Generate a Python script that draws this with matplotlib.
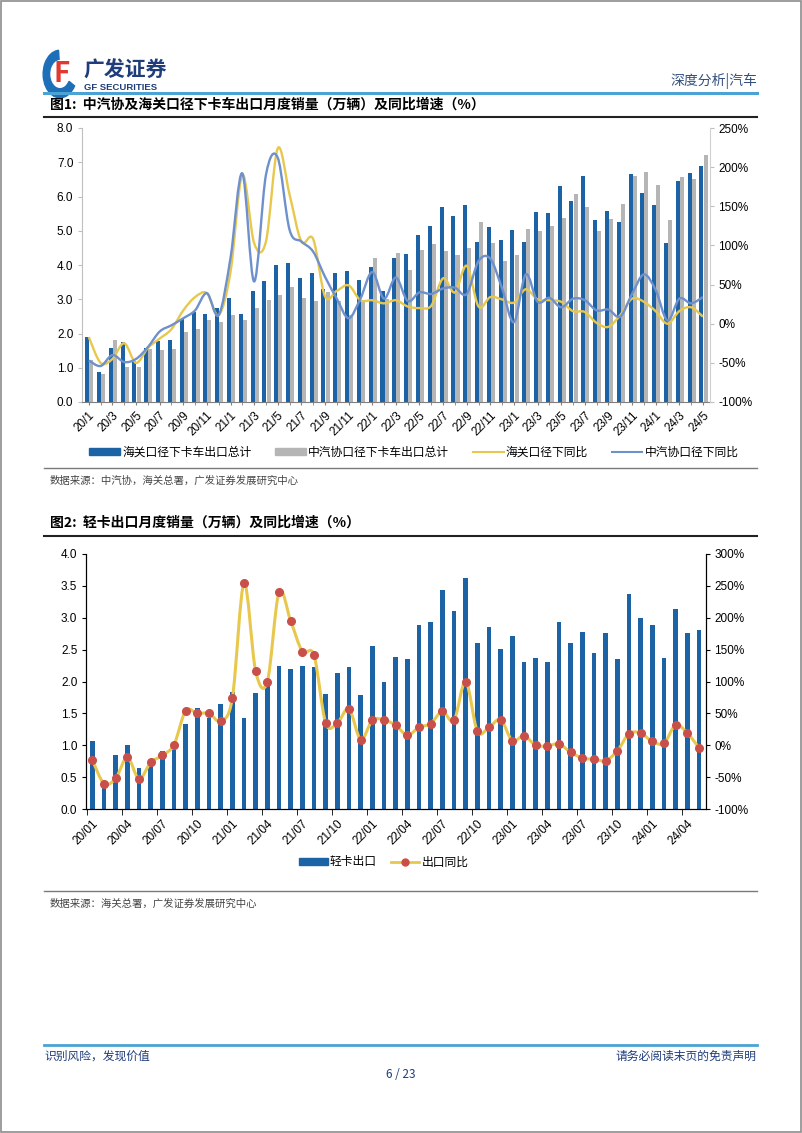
import numpy as np
import matplotlib
matplotlib.use("Agg")
import matplotlib.pyplot as plt
from matplotlib.path import Path
from matplotlib.patches import PathPatch, Rectangle, Wedge, Patch
from matplotlib.lines import Line2D

plt.rcParams['font.family'] = ['Liberation Sans', 'Noto Sans CJK SC']
plt.rcParams['axes.unicode_minus'] = False
CJK = ['Noto Sans CJK SC', 'Liberation Sans']

# ---- 图1 数据 (20/1 - 24/5) ----
customs_total = [1.89, 0.88, 1.58, 1.74, 1.20, 1.58, 1.78, 1.82, 2.42, 2.63, 2.57, 2.75, 3.05, 2.58, 3.25, 3.54, 4.01, 4.05,
                 3.63, 3.76, 3.30, 3.76, 3.82, 3.57, 3.95, 3.24, 4.21, 4.32, 4.88, 5.13, 5.68, 5.43, 5.74, 4.66, 5.11, 4.73,
                 5.01, 4.67, 5.54, 5.51, 6.31, 5.86, 6.60, 5.32, 5.58, 5.26, 6.67, 6.09, 5.74, 4.65, 6.45, 6.69, 6.89]
caam_total = [1.23, 0.83, 1.80, 1.03, 1.02, 1.54, 1.51, 1.56, 2.03, 2.13, 2.38, 2.34, 2.54, 2.39, 2.73, 2.98, 3.12, 3.35,
              3.04, 2.95, 3.22, 2.95, 2.55, 2.95, 4.21, 3.00, 4.35, 3.85, 4.44, 4.61, 4.41, 4.29, 4.51, 5.25, 4.63, 4.13,
              4.29, 5.04, 5.00, 5.13, 5.36, 6.07, 5.68, 5.00, 5.34, 5.79, 6.59, 6.71, 6.34, 5.31, 6.57, 6.51, 7.21]
customs_yoy = [-17, -50, -45, -25, -50, -31, -19, -7, 17, 34, 39, 11, 66, 190, 103, 105, 224, 165,
               105, 108, 35, 42, 49, 30, 30, 26, 30, 22, 20, 23, 58, 40, 74, 22, 34, 31,
               27, 44, 31, 30, 28, 16, 15, 1, -4, 11, 32, 28, 16, 0, 16, 21, 9]
caam_yoy = [-47, -54, -40, -49, -45, -30, -10, -2, 7, 17, 39, 11, 84, 192, 54, 190, 212, 120,
            105, 92, 60, 32, 7, 32, 66, 32, 59, 29, 40, 38, 45, 46, 38, 80, 83, 45,
            2, 63, 28, 33, 21, 32, 30, 17, 18, 9, 38, 63, 43, 4, 32, 26, 34]
labels1 = ['20/1', '20/3', '20/5', '20/7', '20/9', '20/11', '21/1', '21/3', '21/5', '21/7', '21/9', '21/11',
           '22/1', '22/3', '22/5', '22/7', '22/9', '22/11', '23/1', '23/3', '23/5', '23/7', '23/9', '23/11',
           '24/1', '24/3', '24/5']

# ---- 图2 数据 (20/01 - 24/05) ----
light_export = [1.06, 0.38, 0.85, 1.01, 0.65, 0.72, 0.91, 0.93, 1.34, 1.58, 1.42, 1.65, 1.84, 1.42,
                1.82, 2.00, 2.24, 2.20, 2.24, 2.23, 1.81, 2.13, 2.23, 1.79, 2.55, 1.99, 2.39, 2.35,
                2.88, 2.94, 3.44, 3.10, 3.63, 2.60, 2.85, 2.51, 2.72, 2.30, 2.37, 2.31, 2.93, 2.60,
                2.77, 2.44, 2.76, 2.36, 3.37, 2.99, 2.88, 2.37, 3.13, 2.76, 2.81]
light_yoy = [-23, -60, -52, -19, -53, -27, -16, 1, 54, 50, 50, 38, 74, 254,
             116, 100, 240, 195, 147, 141, 35, 35, 57, 9, 39, 40, 31, 16,
             28, 34, 53, 39, 100, 22, 28, 40, 7, 15, 0, -1, 2, -11, -20, -22, -24, -9,
             18, 19, 6, 3, 32, 19, -4]
labels2 = ['20/01', '20/04', '20/07', '20/10', '21/01', '21/04', '21/07', '21/10', '22/01', '22/04',
           '22/07', '22/10', '23/01', '23/04', '23/07', '23/10', '24/01', '24/04']

BLUE = '#1c63a6'
GRAY = '#b5b5b5'
YELLOW = '#e8c84c'
LBLUE = '#6e90cc'
NAVY = '#1f3d7a'


def smooth_path(x, y):
    # excel style smoothed line: catmull-rom drawn as bezier segments
    verts = [(x[0], y[0])]
    codes = [Path.MOVETO]
    n = len(x)
    for i in range(n - 1):
        x0, y0 = (x[i - 1], y[i - 1]) if i > 0 else (x[i], y[i])
        x3, y3 = (x[i + 2], y[i + 2]) if i + 2 < n else (x[i + 1], y[i + 1])
        c1 = (x[i] + (x[i + 1] - x0) / 6, y[i] + (y[i + 1] - y0) / 6)
        c2 = (x[i + 1] - (x3 - x[i]) / 6, y[i + 1] - (y3 - y[i]) / 6)
        verts += [c1, c2, (x[i + 1], y[i + 1])]
        codes += [Path.CURVE4] * 3
    return Path(verts, codes)


fig = plt.figure(figsize=(8.02, 11.33), dpi=100)
H = 1133.0


def fy(py):
    return 1 - py / H


def fx(px):
    return px / 802.0


# page frame
fig.add_artist(Rectangle((0.001, 0.001), 0.998, 0.998, transform=fig.transFigure,
                         fill=False, edgecolor='#8c8c8c', lw=1.2))

# header
fig.add_artist(Wedge((fx(60), fy(74)), 0.021, 95, 330, width=0.008, transform=fig.transFigure,
                     color='#1d6fb8'))
fig.text(fx(62), fy(74), 'F', fontsize=20, fontweight='bold', style='italic', color='#e03a2f',
         ha='center', va='center', family=CJK)
fig.text(fx(83), fy(70), '广发证券', fontsize=15, fontweight='bold', color=NAVY, ha='left', va='center',
         family=CJK)
fig.text(fx(84), fy(87), 'GF SECURITIES', fontsize=6.8, fontweight='bold', color=NAVY, ha='left',
         va='center')
fig.text(fx(757), fy(81), '深度分析|汽车', fontsize=10, color='#34507e', ha='right', va='center', family=CJK)
fig.add_artist(Line2D([fx(44), fx(757)], [fy(92.5), fy(92.5)], transform=fig.transFigure,
                      color='#4aa3d4', lw=2.2))

# ================= 图1 =================
fig.text(fx(50), fy(105), '图1:  中汽协及海关口径下卡车出口月度销量（万辆）及同比增速（%）', fontsize=10,
         fontweight='bold', ha='left', va='center', family=CJK)
fig.add_artist(Line2D([fx(44), fx(757)], [fy(117), fy(117)], transform=fig.transFigure,
                      color='#222222', lw=1.5))

ax = fig.add_axes([fx(81.7), fy(402), fx(710) - fx(81.7), fy(128) - fy(402)])
x1 = np.arange(len(customs_total))
ax.bar(x1 - 0.13, customs_total, width=0.34, color=BLUE, zorder=2)
ax.bar(x1 + 0.22, caam_total, width=0.34, color=GRAY, zorder=1)
ax.set_xlim(-0.6, 52.6)
ax.set_ylim(0, 8)
ax.set_yticks(np.arange(0, 8.01, 1.0))
ax.set_yticklabels(['%.1f' % v for v in np.arange(0, 8.01, 1.0)], fontsize=8.5)
ax.set_xticks(x1[::2])
ax.set_xticklabels(labels1, rotation=45, ha='right', rotation_mode='anchor', fontsize=8.5)
ax.set_xticks(x1, minor=True)
ax.tick_params(axis='x', which='both', length=2.5, color='#7f7f7f', pad=3)
ax.tick_params(axis='y', length=3, color='#bfbfbf', pad=3)
for s in ['top', 'right']:
    ax.spines[s].set_visible(False)
ax.spines['left'].set_color('#bfbfbf')
ax.spines['bottom'].set_color('#7f7f7f')

ax2 = ax.twinx()
ax2.set_ylim(-100, 250)
ax2.add_patch(PathPatch(smooth_path(x1, customs_yoy), fill=False, edgecolor=YELLOW, lw=1.7))
ax2.add_patch(PathPatch(smooth_path(x1, caam_yoy), fill=False, edgecolor=LBLUE, lw=1.7))
ax2.set_yticks(np.arange(-100, 251, 50))
ax2.set_yticklabels(['%d%%' % v for v in np.arange(-100, 251, 50)], fontsize=8.5)
ax2.tick_params(axis='y', length=3, color='#bfbfbf', pad=3)
for s in ['top', 'left', 'bottom']:
    ax2.spines[s].set_visible(False)
ax2.spines['right'].set_color('#d0d0d0')

h1 = [Patch(color=BLUE), Patch(color=GRAY), Line2D([], [], color=YELLOW, lw=1.5),
      Line2D([], [], color=LBLUE, lw=1.5)]
fig.legend(h1, ['海关口径下卡车出口总计', '中汽协口径下卡车出口总计', '海关口径下同比', '中汽协口径下同比'],
           loc='center', bbox_to_anchor=(fx(414), fy(452)), ncol=4, frameon=False,
           handlelength=2.6, handleheight=0.6, columnspacing=2.0, handletextpad=0.2,
           prop={'family': CJK, 'size': 8.5})

fig.add_artist(Line2D([fx(44), fx(757)], [fy(468), fy(468)], transform=fig.transFigure,
                      color='#7a7a7a', lw=1.0))
fig.text(fx(50), fy(481), '数据来源：中汽协，海关总署，广发证券发展研究中心', fontsize=7.5, color='#444444',
         ha='left', va='center', family=CJK)

# ================= 图2 =================
fig.text(fx(50), fy(523), '图2:  轻卡出口月度销量（万辆）及同比增速（%）', fontsize=10, fontweight='bold',
         ha='left', va='center', family=CJK)
fig.add_artist(Line2D([fx(44), fx(757)], [fy(536), fy(536)], transform=fig.transFigure,
                      color='#222222', lw=1.5))

bx = fig.add_axes([fx(85.7), fy(809), fx(706) - fx(85.7), fy(554) - fy(809)])
x2 = np.arange(len(light_export))
bx.bar(x2, light_export, width=0.42, color=BLUE)
bx.set_xlim(-0.57, 52.6)
bx.set_ylim(0, 4)
bx.set_yticks(np.arange(0, 4.01, 0.5))
bx.set_yticklabels(['%.1f' % v for v in np.arange(0, 4.01, 0.5)], fontsize=8.5)
bx.set_xticks(x2[::3])
bx.set_xticklabels(labels2, rotation=45, ha='right', rotation_mode='anchor', fontsize=8.5)
bx.set_xticks(x2[::3] - 0.5, minor=True)
bx.tick_params(axis='x', which='major', length=0, pad=6)
bx.tick_params(axis='x', which='minor', length=4, color='black')
bx.tick_params(axis='y', length=3, color='black', pad=3)
bx.spines['top'].set_visible(False)

bx2 = bx.twinx()
bx2.set_ylim(-100, 300)
bx2.add_patch(PathPatch(smooth_path(x2, light_yoy), fill=False, edgecolor=YELLOW, lw=2.2, zorder=2))
bx2.plot(x2, light_yoy, linestyle='none', marker='o', markersize=5.5, color='#c9504a', zorder=3)
bx2.set_yticks(np.arange(-100, 301, 50))
bx2.set_yticklabels(['%d%%' % v for v in np.arange(-100, 301, 50)], fontsize=8.5)
bx2.tick_params(axis='y', length=3, color='black', pad=3)
bx2.spines['top'].set_visible(False)

h2 = [Patch(color=BLUE), Line2D([], [], color=YELLOW, lw=2, marker='o', markersize=5,
                                markerfacecolor='#c9504a', markeredgecolor='#c9504a')]
fig.legend(h2, ['轻卡出口', '出口同比'], loc='center', bbox_to_anchor=(fx(384), fy(862)), ncol=2,
           frameon=False, handlelength=2.4, handleheight=0.6, columnspacing=1.2, handletextpad=0.2,
           prop={'family': CJK, 'size': 8.5})

fig.add_artist(Line2D([fx(44), fx(757)], [fy(891), fy(891)], transform=fig.transFigure,
                      color='#7a7a7a', lw=1.0))
fig.text(fx(50), fy(904), '数据来源：海关总署，广发证券发展研究中心', fontsize=7.5, color='#444444',
         ha='left', va='center', family=CJK)

# footer
fig.add_artist(Line2D([fx(44), fx(757)], [fy(1045), fy(1045)], transform=fig.transFigure,
                      color='#4aa3d4', lw=2.0))
fig.text(fx(44), fy(1056), '识别风险，发现价值', fontsize=8.5, color=NAVY, ha='left', va='center', family=CJK)
fig.text(fx(757), fy(1056), '请务必阅读末页的免责声明', fontsize=8.5, color=NAVY, ha='right', va='center',
         family=CJK)
fig.text(fx(401), fy(1074), '6 / 23', fontsize=8.5, color=NAVY, ha='center', va='center', family=CJK)

fig.savefig('out.png', dpi=100)
